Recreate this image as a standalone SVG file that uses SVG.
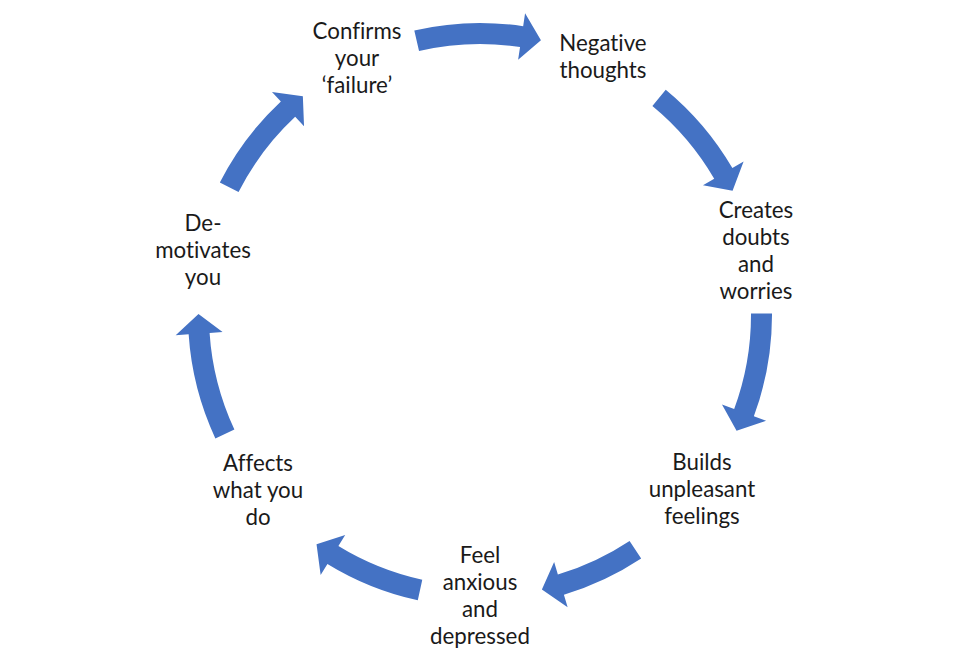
<svg xmlns="http://www.w3.org/2000/svg" width="960" height="669" viewBox="0 0 960 669">
<style>
.t{font-family:Lato,"Open Sans","Liberation Sans",sans-serif;font-size:22.3px;fill:#1a1a1a;text-anchor:middle;font-variant-ligatures:none;font-feature-settings:"liga" 0,"clig" 0}
.a{fill:#4472C4}
</style>
<rect width="960" height="669" fill="#fff"/>
<g id="connectors">
<path class="a" d="M414.31,30.48 A292,292 0 0 1 523.16,26.21 L525.08,13.35 L540.93,40.17 L518.13,59.83 L520.06,46.98 A271,271 0 0 0 419.04,50.95 Z"/>
<path class="a" d="M665.74,89.69 A292,292 0 0 1 732.37,168.12 L743.60,161.58 L732.58,190.71 L702.98,185.22 L714.22,178.68 A271,271 0 0 0 652.38,105.89 Z"/>
<path class="a" d="M772.00,313.47 A292,292 0 0 1 753.86,416.31 L766.06,420.82 L736.56,430.84 L721.98,404.51 L734.17,409.02 A271,271 0 0 0 751.00,313.58 Z"/>
<path class="a" d="M641.17,558.50 A292,292 0 0 1 563.91,594.68 L567.64,607.14 L541.89,589.61 L554.14,562.12 L557.87,574.57 A271,271 0 0 0 629.58,540.98 Z"/>
<path class="a" d="M417.80,600.30 A292,292 0 0 1 327.43,563.97 L320.64,575.06 L316.53,544.18 L345.19,534.98 L338.40,546.07 A271,271 0 0 0 422.27,579.78 Z"/>
<path class="a" d="M215.36,438.40 A292,292 0 0 1 188.64,334.35 L175.67,335.21 L198.50,314.02 L222.57,332.10 L209.60,332.96 A271,271 0 0 0 234.39,429.53 Z"/>
<path class="a" d="M219.83,182.43 A292,292 0 0 1 280.86,101.45 L271.99,91.94 L302.85,96.23 L304.04,126.31 L295.18,116.80 A271,271 0 0 0 238.54,191.97 Z"/>
</g>
<g id="node-confirms"><text class="t" x="357" y="39">Confirms</text><text class="t" x="357" y="66">your</text><text class="t" x="357" y="93">‘failure’</text></g>
<g id="node-negative"><text class="t" x="603" y="51">Negative</text><text class="t" x="603" y="78">thoughts</text></g>
<g id="node-creates"><text class="t" x="756" y="218">Creates</text><text class="t" x="756" y="245">doubts</text><text class="t" x="756" y="272">and</text><text class="t" x="756" y="299">worries</text></g>
<g id="node-builds"><text class="t" x="702" y="470">Builds</text><text class="t" x="702" y="497">unpleasant</text><text class="t" x="702" y="524">feelings</text></g>
<g id="node-feel"><text class="t" x="480" y="563">Feel</text><text class="t" x="480" y="590">anxious</text><text class="t" x="480" y="617">and</text><text class="t" x="480" y="644">depressed</text></g>
<g id="node-affects"><text class="t" x="258" y="471">Affects</text><text class="t" x="258" y="498">what you</text><text class="t" x="258" y="525">do</text></g>
<g id="node-demotivates"><text class="t" x="203" y="231">De-</text><text class="t" x="203" y="258">motivates</text><text class="t" x="203" y="285">you</text></g>
</svg>
